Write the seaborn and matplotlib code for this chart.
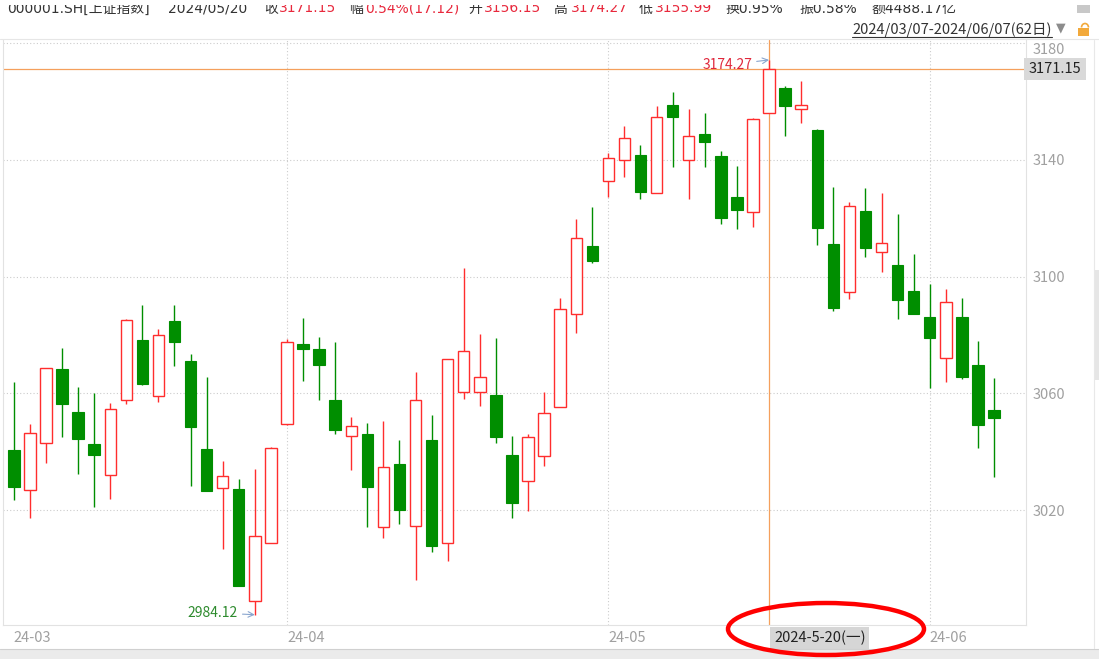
import numpy as np
import pandas as pd
import seaborn as sns
import matplotlib.pyplot as plt
from matplotlib.patches import Ellipse, Rectangle, Arc
from matplotlib.transforms import blended_transform_factory

# 上证指数 daily bars, 2024/03/07 - 2024/06/07 (62 trading days)
holidays = ["2024-04-04", "2024-04-05", "2024-05-01", "2024-05-02", "2024-05-03"]
dates = pd.bdate_range("2024-03-07", "2024-06-07", freq="C", holidays=holidays)

opens = [3040.6, 3026.8, 3043.0, 3068.4, 3053.7, 3042.7, 3032.1, 3057.6, 3078.2, 3059.0,
         3084.7, 3071.0, 3040.8, 3027.5, 3027.1, 2988.9, 3008.8, 3049.5, 3077.0, 3075.1,
         3057.6, 3045.3, 3046.2, 3014.1, 3035.7, 3014.4, 3043.9, 3008.7, 3060.4, 3060.6,
         3059.3, 3038.9, 3029.9, 3038.5, 3055.4, 3087.1, 3110.5, 3132.9, 3140.0, 3141.6,
         3128.7, 3158.9, 3140.0, 3149.0, 3141.4, 3127.4, 3122.2, 3156.15, 3164.7, 3157.6,
         3150.2, 3111.1, 3094.6, 3122.5, 3108.4, 3104.0, 3095.1, 3086.3, 3072.0, 3086.3,
         3069.7, 3054.3]
highs = [3064.0, 3049.5, 3068.8, 3075.4, 3062.2, 3060.1, 3056.8, 3085.5, 3090.3, 3082.1,
         3090.3, 3073.5, 3065.6, 3036.9, 3030.6, 3034.0, 3041.6, 3078.7, 3085.8, 3079.3,
         3077.6, 3051.8, 3049.7, 3050.6, 3043.9, 3067.2, 3052.6, 3071.9, 3102.9, 3080.5,
         3078.9, 3045.4, 3046.1, 3060.4, 3092.8, 3119.7, 3123.7, 3142.5, 3151.6, 3145.0,
         3158.5, 3163.3, 3157.5, 3156.1, 3143.2, 3137.9, 3154.5, 3174.27, 3165.4, 3167.0,
         3150.5, 3130.7, 3125.5, 3130.4, 3128.6, 3121.5, 3107.7, 3097.5, 3095.7, 3092.6,
         3078.0, 3065.2]
lows = [3023.4, 3017.4, 3036.0, 3045.1, 3032.3, 3021.0, 3023.8, 3056.5, 3063.0, 3056.9,
        3069.5, 3028.2, 3026.5, 3006.8, 2993.8, 2984.12, 3008.6, 3049.3, 3064.3, 3057.8,
        3046.1, 3033.6, 3014.1, 3010.3, 3015.3, 2996.0, 3005.7, 3002.5, 3058.2, 3055.6,
        3042.9, 3017.2, 3019.7, 3035.1, 3055.2, 3080.8, 3104.6, 3127.2, 3134.1, 3126.7,
        3128.5, 3137.6, 3126.7, 3137.7, 3118.1, 3116.4, 3117.1, 3155.99, 3148.3, 3152.8,
        3110.8, 3088.2, 3092.4, 3106.7, 3101.5, 3085.6, 3087.1, 3061.7, 3064.0, 3065.0,
        3041.2, 3031.4]
closes = [3027.8, 3046.3, 3068.6, 3056.5, 3044.4, 3038.9, 3054.7, 3085.2, 3063.1, 3079.9,
          3077.5, 3048.6, 3026.6, 3031.8, 2993.9, 3011.0, 3041.4, 3077.5, 3075.3, 3069.6,
          3047.4, 3048.9, 3027.8, 3034.7, 3019.9, 3057.6, 3007.7, 3071.7, 3074.4, 3065.5,
          3045.1, 3022.5, 3044.9, 3053.2, 3088.8, 3113.2, 3105.3, 3140.8, 3147.6, 3128.9,
          3154.6, 3154.7, 3148.1, 3146.1, 3120.2, 3122.8, 3154.03, 3171.15, 3158.4, 3158.8,
          3116.8, 3089.3, 3124.2, 3109.8, 3111.4, 3092.1, 3087.3, 3079.0, 3091.3, 3065.6,
          3049.2, 3051.7]

y_ticks = [3020, 3060, 3100, 3140, 3180]
header = [(7, "000001.SH[上证指数]", "d"), (168, "2024/05/20", "d"),
          (264, "收", "d"), (279, "3171.15", "r"), (349, "幅", "d"), (365, "0.54%(17.12)", "r"),
          (468, "开", "d"), (484, "3156.15", "r"), (553, "高", "d"), (571, "3174.27", "r"),
          (639, "低", "d"), (655, "3155.99", "r"), (725, "换0.95%", "d"),
          (799, "振0.58%", "d"), (871, "额4488.17亿", "d")]
sel_idx = 47
last_close = 3171.15

sns.set_theme(style="white")
plt.rcParams["font.family"] = ["Noto Sans CJK SC", "DejaVu Sans"]

RED = "#FF2D2D"
GREEN = "#008E00"
ORANGE = "#F5A05C"
GRID = "#CCCCCC"
LABEL = "#A0A0A0"

W, H = 1099, 659
fig = plt.figure(figsize=(W / 100, H / 100), dpi=100)
ax = fig.add_axes([3 / W, 1 - 625 / H, 1023 / W, 585 / H])

df = pd.DataFrame({"date": dates, "open": opens, "high": highs, "low": lows, "close": closes})
df["x"] = np.arange(len(df))
up = df["close"] >= df["open"]
body = (df["close"] - df["open"]).abs().clip(lower=0.4)

# wicks
ax.vlines(df.x[up], df.low[up], df.high[up], color=RED, lw=1, zorder=2)
ax.vlines(df.x[~up], df.low[~up], df.high[~up], color=GREEN, lw=1, zorder=2)
# bodies
ax.bar(df.x[up], body[up], bottom=df.open[up], width=0.71,
       facecolor="white", edgecolor=RED, lw=1, zorder=3)
ax.bar(df.x[~up], body[~up], bottom=df.close[~up], width=0.71,
       facecolor=GREEN, edgecolor=GREEN, lw=0.8, zorder=3)

ax.set_xlim(-0.672, 62.99)
ax.set_ylim(2980.6, 3181.1)

# y axis on the right
ax.set_yticks(y_ticks)
ax.yaxis.tick_right()
ax.tick_params(axis="y", length=0, pad=5, labelsize=10.5, labelcolor=LABEL)
ax.grid(axis="y", ls=(0, (1, 2)), color=GRID, lw=0.8)
ylabs = ax.get_yticklabels()
ylabs[-1].set_va("top")

# month ticks
month_idx = [0] + [i for i in range(1, len(df)) if df.date[i].month != df.date[i - 1].month]
ax.set_xticks(month_idx)
ax.set_xticklabels([df.date[i].strftime("%y-%m") for i in month_idx], ha="left")
ax.tick_params(axis="x", length=0, pad=4, labelsize=10.5, labelcolor=LABEL)
for i in month_idx[1:]:
    ax.axvline(i, ls=(0, (1, 2)), color=GRID, lw=0.8, zorder=0)

for side in ["left", "right", "bottom"]:
    ax.spines[side].set_color("#E2E2E2")
    ax.spines[side].set_linewidth(0.8)
ax.spines["top"].set_visible(False)

# crosshair on the selected day
ax.axhline(last_close, color=ORANGE, lw=0.9, zorder=1.5)
ax.axvline(sel_idx, color=ORANGE, lw=0.9, zorder=1.5)

tr_y = blended_transform_factory(ax.transAxes, ax.transData)
ax.text(1.0025, last_close, "%.2f" % last_close, transform=tr_y, ha="left", va="center",
        fontsize=10.5, color="#222222",
        bbox=dict(boxstyle="square,pad=0.3", fc="#D9D9D9", ec="none"))
tr_x = blended_transform_factory(ax.transData, ax.transAxes)
d = df.date[sel_idx]
wk = "一二三四五六日"[d.weekday()]
ax.annotate(f"{d.year}-{d.month}-{d.day}({wk})", xy=(sel_idx, 0), xycoords=tr_x,
            xytext=(5, -6), textcoords="offset pixels", ha="left", va="top",
            fontsize=10.5, color="#222222", annotation_clip=False,
            bbox=dict(boxstyle="square,pad=0.25", fc="#D6D6D6", ec="none"))

# max / min markers
hi = df.high.idxmax()
lo = df.low.idxmin()
ax.annotate("%.2f" % df.high[hi], xy=(hi, df.high[hi]), xytext=(-17, -5),
            textcoords="offset pixels", ha="right", va="center", fontsize=10,
            color="#E0283C",
            arrowprops=dict(arrowstyle="->", color="#8AA6CF", lw=0.8, shrinkA=1, shrinkB=0))
ax.annotate("%.2f" % df.low[lo], xy=(lo, df.low[lo]), xytext=(-17, 2),
            textcoords="offset pixels", ha="right", va="center", fontsize=10,
            color="#2E8B2E",
            arrowprops=dict(arrowstyle="->", color="#8AA6CF", lw=0.8, shrinkA=1, shrinkB=0))

# overlay for the software chrome
ov = fig.add_axes([0, 0, 1, 1], zorder=5)
ov.set_xlim(0, W)
ov.set_ylim(H, 0)
ov.axis("off")
ov.patch.set_visible(False)

for x, s, c in header:
    ov.text(x, 12.5, s, ha="left", va="baseline", fontsize=10,
            family=["DejaVu Sans", "Noto Sans CJK SC"],
            color="#E8283C" if c == "r" else "#333333")
ov.add_patch(Rectangle((0, 0), W, 4.5, fc="white", ec="none", zorder=10))
ov.add_patch(Rectangle((1077, 4.5), 13, 8, fc="#C8C8C8", ec="none"))

ov.plot([0, W], [39, 39], color="#E6E6E6", lw=0.8)
ov.text(852, 34, "2024/03/07-2024/06/07(62日)", ha="left", va="baseline",
        fontsize=10.5, color="#333333")
ov.plot([852, 1052], [36.5, 36.5], color="#333333", lw=0.8)
ov.text(1061, 28, "▼", ha="center", va="center", fontsize=9, color="#8C8C8C",
        family="DejaVu Sans")
ov.add_patch(Rectangle((1078, 28), 11, 8, fc="#F2A93B", ec="none"))
ov.add_patch(Arc((1085, 27.5), 7, 8, theta1=180, theta2=360, color="#F2A93B", lw=1.2))

ov.plot([1094, 1094], [40, 648], color="#E8E8E8", lw=0.8)
ov.add_patch(Rectangle((1094, 270), 5, 110, fc="#E6E6E6", ec="none"))
ov.add_patch(Rectangle((0, 649), W, 10, fc="#EBEBEB", ec="none"))
ov.plot([0, W], [649, 649], color="#D0D0D0", lw=0.8)

ov.add_patch(Ellipse((826, 629), 196, 52, fill=False, ec="#FF0000", lw=3.2, zorder=11))

fig.savefig("out.png", dpi=100)
